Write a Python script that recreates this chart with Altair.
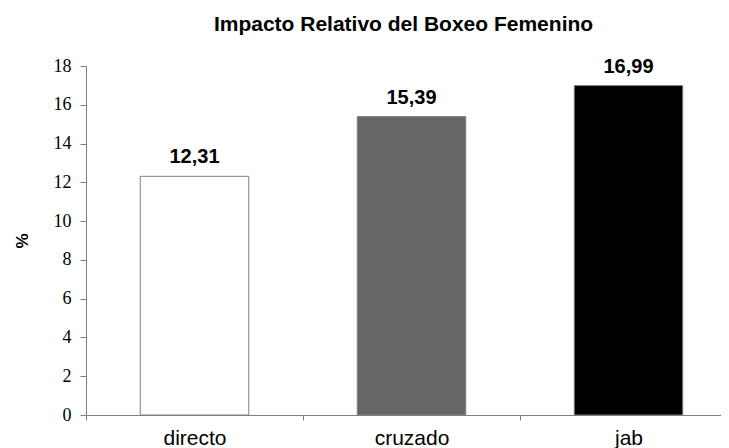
import altair as alt
import pandas as pd

categories = ["directo", "cruzado", "jab"]
values = [12.31, 15.39, 16.99]
labels = ["12,31", "15,39", "16,99"]
colors = ["#ffffff", "#666666", "#000000"]
y_ticks = [0, 2, 4, 6, 8, 10, 12, 14, 16, 18]

df = pd.DataFrame({"cat": categories, "val": values, "lab": labels, "col": colors})

x = alt.X("cat:N", sort=categories,
          scale=alt.Scale(paddingInner=0, paddingOuter=0),
          axis=alt.Axis(title=None, labelAngle=0, ticks=True, tickBand="extent", domainColor="#808080",
                        tickColor="#808080", tickSize=5, tickWidth=1, labelFont="Liberation Sans",
                        labelFontSize=21, labelColor="#000000", labelPadding=7))
y = alt.Y("val:Q", scale=alt.Scale(domain=[0, 18], nice=False),
          axis=alt.Axis(title="%", values=y_ticks, grid=False, labelOverlap=False,
                        domainColor="#808080", tickColor="#808080", tickSize=6,
                        labelFont="Liberation Serif", labelFontSize=18, labelColor="#000000",
                        labelPadding=9, titleFont="Liberation Sans", titleFontSize=17,
                        titleFontWeight="bold", titleColor="#000000", titlePadding=22))

base = alt.Chart(df).encode(x=x, y=y)

bars = base.mark_bar(width=alt.RelativeBandSize(0.5), stroke="#808080", strokeWidth=1).encode(
    color=alt.Color("col:N", scale=None))

text = base.mark_text(baseline="alphabetic", dy=-13, font="Liberation Sans", fontSize=20,
                      fontWeight="bold", color="#000000").encode(text="lab:N")

chart = (bars + text).properties(
    width=651, height=349,
    title=alt.TitleParams("Impacto Relativo del Boxeo Femenino", font="Liberation Sans",
                          fontSize=21, fontWeight="bold", color="#000000", offset=22, dx=-8),
    autosize=alt.AutoSizeParams(type="none"),
    padding={"left": 78, "top": 58, "right": -16, "bottom": 40},
).configure_view(stroke=None).configure_axisY(
    labelFont="Liberation Serif", labelFontSize=18, labelColor="#000000")

chart.save("out.html", embed_options={"renderer": "svg", "actions": False})
